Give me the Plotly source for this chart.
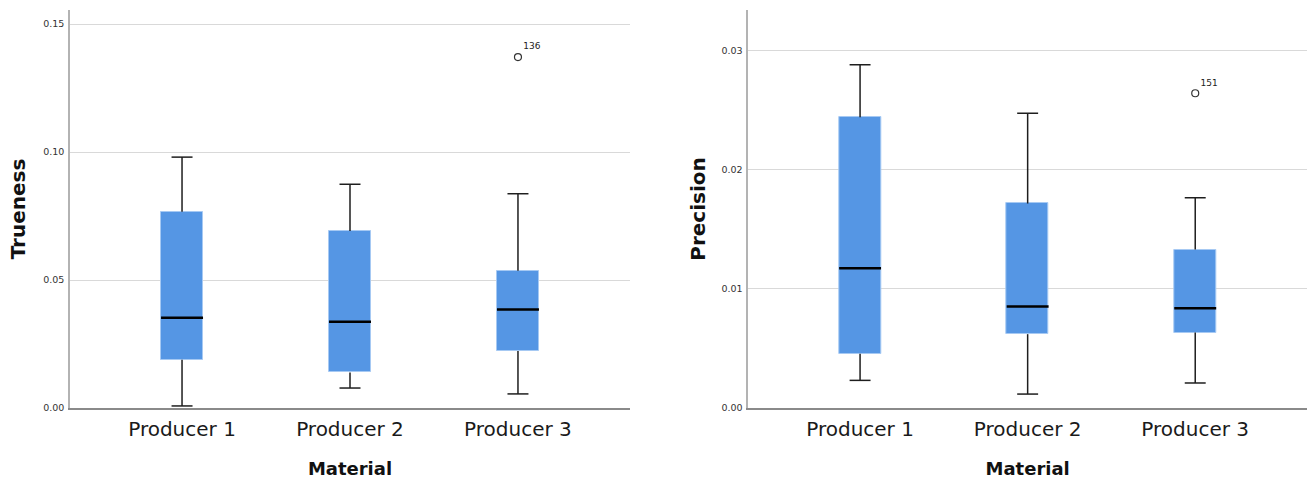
import plotly.graph_objects as go

categories = ["Producer 1", "Producer 2", "Producer 3"]

# Trueness box statistics
tru_lower = [0.0008, 0.0078, 0.0055]
tru_q1 = [0.0188, 0.0139, 0.0223]
tru_median = [0.0353, 0.0337, 0.0385]
tru_q3 = [0.0767, 0.0691, 0.0536]
tru_upper = [0.0980, 0.0874, 0.0837]
tru_out_cat = [2]
tru_out_val = [0.1371]
tru_out_lbl = ["136"]

# Precision box statistics
pre_lower = [0.00232, 0.00117, 0.00210]
pre_q1 = [0.00455, 0.00620, 0.00634]
pre_median = [0.01173, 0.00852, 0.00838]
pre_q3 = [0.02442, 0.01718, 0.01330]
pre_upper = [0.02883, 0.02475, 0.01766]
pre_out_cat = [2]
pre_out_val = [0.02643]
pre_out_lbl = ["151"]

BOX_W = 0.25
CAP_W = 0.125
FILL = "#5596e4"
EDGE = "#a6c9f3"
FONT = "DejaVu Sans"

fig = go.Figure()


def add_panel(xa, ya, lower, q1, med, q3, upper, oc, ov, ol):
    pos = list(range(len(categories)))
    fig.add_trace(go.Bar(
        x=pos, base=q1, y=[b - a for a, b in zip(q1, q3)], width=BOX_W,
        marker=dict(color=FILL, line=dict(color=EDGE, width=1)),
        xaxis=xa, yaxis=ya, showlegend=False, hoverinfo="skip"))
    wx, wy = [], []
    for i in pos:
        wx += [i, i, None, i, i, None,
               i - CAP_W / 2, i + CAP_W / 2, None, i - CAP_W / 2, i + CAP_W / 2, None]
        wy += [q3[i], upper[i], None, q1[i], lower[i], None,
               upper[i], upper[i], None, lower[i], lower[i], None]
    fig.add_trace(go.Scatter(
        x=wx, y=wy, mode="lines", line=dict(color="#1e1e1e", width=1.5),
        xaxis=xa, yaxis=ya, showlegend=False, hoverinfo="skip"))
    mx, my = [], []
    for i in pos:
        mx += [i - BOX_W / 2, i + BOX_W / 2, None]
        my += [med[i], med[i], None]
    fig.add_trace(go.Scatter(
        x=mx, y=my, mode="lines", line=dict(color="black", width=2.5),
        xaxis=xa, yaxis=ya, showlegend=False, hoverinfo="skip"))
    fig.add_trace(go.Scatter(
        x=oc, y=ov, mode="markers+text", text=ol, textposition="top right",
        textfont=dict(family=FONT, size=9, color="#222"),
        marker=dict(symbol="circle-open", size=7, color="#333", line=dict(width=1.2)),
        xaxis=xa, yaxis=ya, showlegend=False, hoverinfo="skip"))


add_panel("x", "y", tru_lower, tru_q1, tru_median, tru_q3, tru_upper,
          tru_out_cat, tru_out_val, tru_out_lbl)
add_panel("x2", "y2", pre_lower, pre_q1, pre_median, pre_q3, pre_upper,
          pre_out_cat, pre_out_val, pre_out_lbl)

W, H = 1309, 481
ydom = [(H - 408) / H, (H - 10) / H]

xcommon = dict(
    tickmode="array", tickvals=[0, 1, 2], ticktext=categories,
    range=[-0.667, 2.667], showgrid=False, zeroline=False,
    showline=True, linecolor="#8a8a8a", linewidth=1.5,
    ticks="", automargin=False, ticklabelstandoff=2,
    tickfont=dict(family=FONT, size=20, color="#1a1a1a"),
    title=dict(text="<b>Material</b>", font=dict(family=FONT, size=18, color="#111"),
               standoff=23),
)
ycommon = dict(
    showgrid=True, gridcolor="#d9d9d9", gridwidth=1, zeroline=False,
    showline=True, linecolor="#b3b3b3", linewidth=1.5,
    ticks="", ticklabelstandoff=2, automargin=False,
    tickfont=dict(family=FONT, size=9.5, color="#333"),
    tickformat=".2f", domain=ydom,
)

fig.update_layout(
    width=W, height=H,
    margin=dict(l=0, r=0, t=0, b=0),
    paper_bgcolor="white", plot_bgcolor="white",
    bargap=0,
    xaxis=dict(domain=[70 / W, 630 / W], anchor="y", **xcommon),
    xaxis2=dict(domain=[748.3 / W, 1307 / W], anchor="y2", **xcommon),
    yaxis=dict(anchor="x", range=[0, 0.15547], tickvals=[0, 0.05, 0.10, 0.15],
               title=dict(text="<b>Trueness</b>", font=dict(family=FONT, size=20, color="#111"),
                          standoff=12),
               **ycommon),
    yaxis2=dict(anchor="x2", range=[0, 0.03342], tickvals=[0, 0.01, 0.02, 0.03],
                title=dict(text="<b>Precision</b>", font=dict(family=FONT, size=20, color="#111"),
                           standoff=10),
                **ycommon),
)

fig.write_html("out.html", config={"displayModeBar": False},
               post_script="document.body.style.margin='0';document.body.style.overflow='hidden';")
